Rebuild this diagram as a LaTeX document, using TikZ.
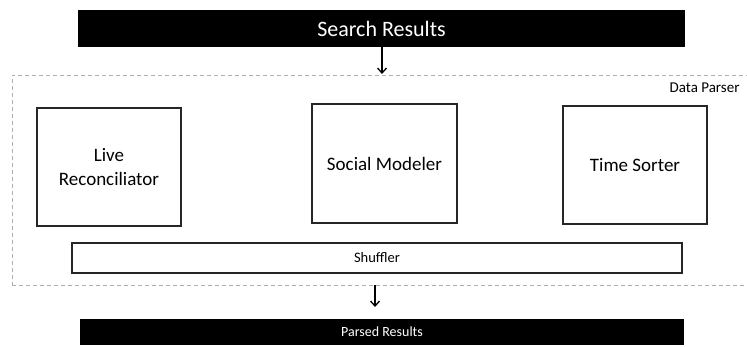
\documentclass[tikz,border=0pt]{standalone}
\usepackage{fontspec}
\setmainfont{Carlito}
\usetikzlibrary{arrows.meta}
\definecolor{dashgray}{RGB}{175,175,175}
\begin{document}
\begin{tikzpicture}[x=1pt,y=-1pt,
  blackbar/.style={fill=black,draw=none,text=white,inner sep=0pt},
  procbox/.style={draw=black!85,line width=1.1pt,fill=white,inner sep=0pt,align=center,font=\fontsize{19}{24}\selectfont},
  groupbox/.style={draw=dashgray,dash pattern=on 4pt off 3pt,line width=0.8pt,inner sep=0pt},
  flow/.style={-{Straight Barb[length=5pt,width=9pt]},line width=1.3pt}]
\clip (0,0) rectangle (747,347);
\useasboundingbox (0,0) rectangle (747,347);
\node[groupbox,minimum width=740pt,minimum height=210pt] (parser) at (382,180) {};
\node[anchor=east,font=\fontsize{15}{18}\selectfont] (plabel) at (743,88) {Data Parser};
\node[blackbar,minimum width=607pt,minimum height=37pt,font=\fontsize{22}{26}\selectfont] (search) at (381.5,28.5) {Search Results};
\node[procbox,minimum width=144pt,minimum height=118pt] (live) at (109,167) {Live\\Reconciliator};
\node[procbox,minimum width=145pt,minimum height=119pt] (social) at (384.5,163.5) {Social Modeler};
\node[procbox,minimum width=144pt,minimum height=118pt] (time) at (635,165) {Time Sorter};
\node[procbox,minimum width=610pt,minimum height=30pt,font=\fontsize{14.5}{17}\selectfont] (shuffler) at (377,258) {Shuffler};
\node[blackbar,minimum width=604pt,minimum height=26pt,font=\fontsize{14}{16}\selectfont] (parsed) at (382,332) {Parsed Results};
\coordinate (a1) at (382,74);
\coordinate (a2) at (375,307);
\draw[flow] (search.south -| a1) -- (a1);
\draw[flow] (parser.south -| a2) -- (a2);
\end{tikzpicture}
\end{document}
